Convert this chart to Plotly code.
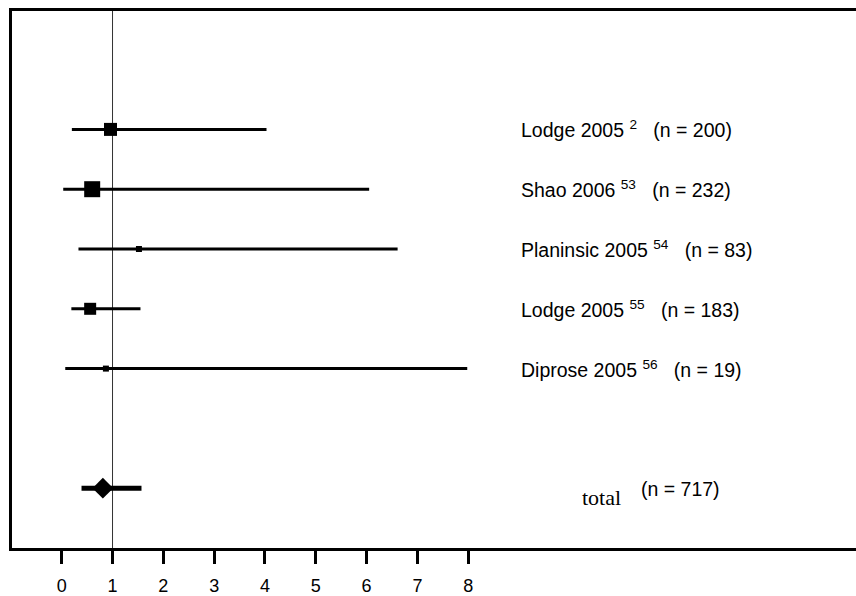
import plotly.graph_objects as go

# ---- data ----
studies = ["Lodge 2005", "Shao 2006", "Planinsic 2005", "Lodge 2005", "Diprose 2005"]
refs = ["2", "53", "54", "55", "56"]
n_patients = [200, 232, 83, 183, 19]
estimate = [0.96, 0.60, 1.52, 0.56, 0.87]
ci_lower = [0.20, 0.03, 0.33, 0.19, 0.07]
ci_upper = [4.03, 6.05, 6.61, 1.55, 7.98]
total_label = "total"
total_n = 717
total_estimate = 0.81
total_lower = 0.39
total_upper = 1.57
x_ticks = [0, 1, 2, 3, 4, 5, 6, 7, 8]

# ---- style ----
marker_sizes = [13, 16, 6, 12, 6]
row_pos = [0, 1, 2, 3, 4]
total_pos = 6

fig = go.Figure()

fig.add_trace(go.Scatter(
    x=estimate, y=row_pos, mode="markers",
    marker=dict(symbol="square", size=marker_sizes, color="black", opacity=1, line=dict(width=0)),
    error_x=dict(type="data", symmetric=False,
                 array=[u - e for u, e in zip(ci_upper, estimate)],
                 arrayminus=[e - l for e, l in zip(estimate, ci_lower)],
                 width=0, thickness=3, color="black"),
    showlegend=False, hoverinfo="skip"))

fig.add_trace(go.Scatter(
    x=[total_estimate], y=[total_pos], mode="markers",
    marker=dict(symbol="diamond", size=16, color="black", opacity=1, line=dict(width=0)),
    error_x=dict(type="data", symmetric=False,
                 array=[total_upper - total_estimate],
                 arrayminus=[total_estimate - total_lower],
                 width=0, thickness=5, color="black"),
    showlegend=False, hoverinfo="skip"))

# reference line at 1
fig.add_shape(type="line", xref="x", yref="paper", x0=1, x1=1, y0=0, y1=1,
              line=dict(color="#333333", width=1), layer="below")

sans = "Liberation Sans, Arial, Helvetica, sans-serif"
for s, r, n, y in zip(studies, refs, n_patients, row_pos):
    fig.add_annotation(x=9, y=y, xref="x", yref="y", xanchor="left", yanchor="middle",
                       text=f"{s}\u00a0<sup>{r}</sup>\u00a0\u00a0\u00a0(n = {n})",
                       showarrow=False, font=dict(family=sans, size=19.5, color="black"))

fig.add_annotation(x=10.2, y=total_pos + 0.15, xref="x", yref="y", xanchor="left", yanchor="middle",
                   text=total_label, showarrow=False,
                   font=dict(family="Liberation Serif, Times New Roman, serif", size=22, color="black"))
fig.add_annotation(x=11.36, y=total_pos + 0.02, xref="x", yref="y", xanchor="left", yanchor="middle",
                   text=f"(n = {total_n})", showarrow=False,
                   font=dict(family=sans, size=19.5, color="black"))

fig.update_layout(
    width=856, height=596,
    margin=dict(l=12, r=0, t=11, b=46),
    paper_bgcolor="white", plot_bgcolor="white",
    font=dict(family=sans, size=18, color="black"),
    xaxis=dict(range=[-0.978, 15.63], tickvals=x_ticks, ticktext=[str(t) for t in x_ticks],
               showgrid=False, zeroline=False, showline=True, linecolor="black", linewidth=3,
               mirror=True, ticks="outside", ticklen=13, tickwidth=3, tickcolor="black",
               ticklabelstandoff=6,
               tickfont=dict(family=sans, size=18, color="black")),
    yaxis=dict(range=[7.0, -1.98], showgrid=False, zeroline=False, showline=True,
               linecolor="black", linewidth=3, showticklabels=False, ticks=""),
)

fig.write_html("out.html", config={"displayModeBar": False},
               post_script="document.body.style.margin='0';document.body.style.padding='0';")
